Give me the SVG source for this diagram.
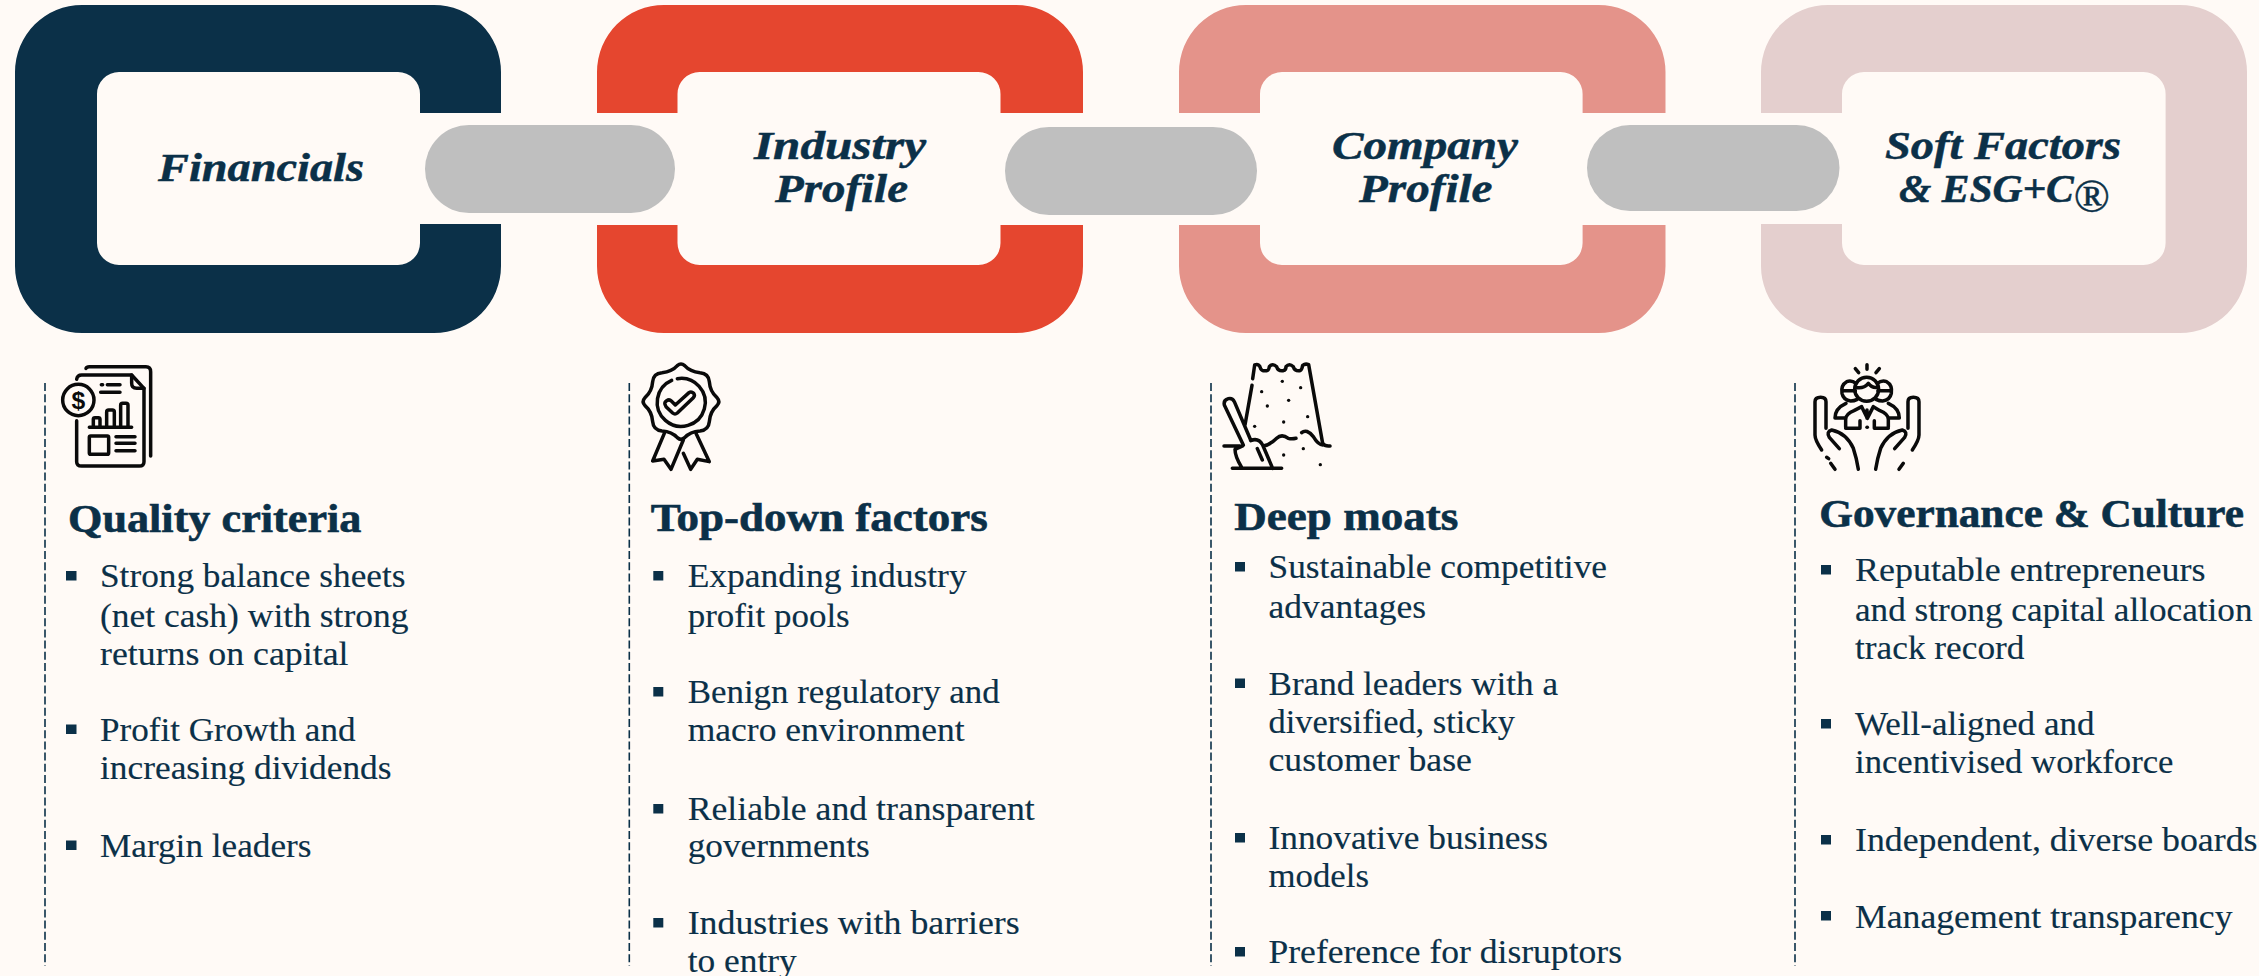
<svg xmlns="http://www.w3.org/2000/svg" width="2259" height="976" viewBox="0 0 2259 976">
<style>
text{font-family:"Liberation Serif","Times New Roman",serif;fill:#0B3048}
.t{font-size:41px;font-weight:700;font-style:italic;stroke:#0B3048;stroke-width:.5px}
.h{font-size:40px;font-weight:700;stroke:#0B3048;stroke-width:.6px}
.b{font-size:33px;stroke:#0B3048;stroke-width:.15px}
.d{stroke:#0B3048;stroke-width:1.6;stroke-dasharray:8 3.2;fill:none}
.s{fill:#0B3048}
.i{fill:none;stroke:#0a0a0a;stroke-width:10.500;stroke-linecap:round;stroke-linejoin:round}
.p{fill:#BFBFBF}
</style>
<rect width="2259" height="976" fill="#FFFAF6"/>
<g id="link-financials">
<path fill="#0B3048" d="M501 113V72A67 67 0 0 0 434 5H82A67 67 0 0 0 15 72V266A67 67 0 0 0 82 333H434A67 67 0 0 0 501 266V224H420V243A22 22 0 0 1 398 265H119A22 22 0 0 1 97 243V94A22 22 0 0 1 119 72H398A22 22 0 0 1 420 94V113Z"/>
<text class="t" x="158" y="181" textLength="206" lengthAdjust="spacingAndGlyphs">Financials</text>
</g>
<g id="link-industry">
<path fill="#E5462F" d="M597 113V72A67 67 0 0 1 664 5H1016A67 67 0 0 1 1083 72V113H1000.500V94A22 22 0 0 0 978.500 72H699.500A22 22 0 0 0 677.500 94V113Z"/>
<path fill="#E5462F" d="M597 225V266A67 67 0 0 0 664 333H1016A67 67 0 0 0 1083 266V225H1000.500V243A22 22 0 0 1 978.500 265H699.500A22 22 0 0 1 677.500 243V225Z"/>
<text class="t" x="754" y="159" textLength="172" lengthAdjust="spacingAndGlyphs">Industry</text>
<text class="t" x="775" y="202" textLength="133" lengthAdjust="spacingAndGlyphs">Profile</text>
</g>
<g id="link-company">
<path fill="#E4938A" d="M1179 113V72A67 67 0 0 1 1246 5H1598.500A67 67 0 0 1 1665.500 72V113H1582.600V94A22 22 0 0 0 1560.600 72H1282A22 22 0 0 0 1260 94V113Z"/>
<path fill="#E4938A" d="M1179 225V266A67 67 0 0 0 1246 333H1598.500A67 67 0 0 0 1665.500 266V225H1582.600V243A22 22 0 0 1 1560.600 265H1282A22 22 0 0 1 1260 243V225Z"/>
<text class="t" x="1332" y="159" textLength="186" lengthAdjust="spacingAndGlyphs">Company</text>
<text class="t" x="1359" y="202" textLength="133.500" lengthAdjust="spacingAndGlyphs">Profile</text>
</g>
<g id="link-soft-factors">
<path fill="#E4CFCE" d="M1761 113V72A67 67 0 0 1 1828 5H2180A67 67 0 0 1 2247 72V266A67 67 0 0 1 2180 333H1828A67 67 0 0 1 1761 266V224H1842V243A22 22 0 0 0 1864 265H2143.600A22 22 0 0 0 2165.600 243V94A22 22 0 0 0 2143.600 72H1864A22 22 0 0 0 1842 94V113Z"/>
<text class="t" x="1885" y="159" textLength="236" lengthAdjust="spacingAndGlyphs">Soft Factors</text>
<text class="t" x="1899" y="202" textLength="211" lengthAdjust="spacingAndGlyphs">&amp; ESG+C<tspan dy="10" style="font-size:47px;font-style:normal;font-weight:400">®</tspan></text>
</g>
<g id="connectors">
<rect class="p" x="425" y="125" width="250" height="88" rx="44"/>
<rect class="p" x="1005" y="127" width="252" height="88" rx="44"/>
<rect class="p" x="1587" y="125" width="252.500" height="86" rx="43"/>
</g>
<g id="col-quality">
<path class="d" d="M45 383V966"/>
<g transform="translate(30 350) scale(.3333)">
<path class="i" d="M168 55Q170 50 178 50H348Q362 50 362 65V318"/>
<path class="i" d="M140 88Q142 75 155 75H305L342 115V335Q342 348 328 348H155Q140 348 140 335V212"/>
<path class="i" d="M305 75V100Q305 115 320 115H342"/>
<circle class="i" cx="145" cy="150" r="47"/>
<text x="145" y="176" font-size="74" font-weight="700" text-anchor="middle" style="font-family:'Liberation Sans',Arial,sans-serif;fill:#0a0a0a">$</text>
<path class="i" d="M214 104H218M232 104H270M212 127H270M178 232H305M190 232V208Q190 203 195 203H205Q210 203 210 208V232M230 232V186Q230 180 236 180H247Q253 180 253 186V232M272 232V166Q272 160 278 160H288Q294 160 294 166V232M258 260H315M258 280H315M258 302H315"/>
<rect class="i" x="178" y="258" width="58" height="55" rx="4"/>
</g>
<text class="h" x="68" y="531.700" textLength="293.400" lengthAdjust="spacingAndGlyphs">Quality criteria</text>
<rect class="s" x="66" y="571" width="10.500" height="9.500"/>
<rect class="s" x="66" y="724.500" width="10.500" height="9.500"/>
<rect class="s" x="66" y="840.500" width="10.500" height="9.500"/>
<text class="b" x="100" y="586.700" textLength="305.500" lengthAdjust="spacingAndGlyphs">Strong balance sheets</text>
<text class="b" x="100" y="626.700" textLength="308.500" lengthAdjust="spacingAndGlyphs">(net cash) with strong</text>
<text class="b" x="100" y="665" textLength="248.500" lengthAdjust="spacingAndGlyphs">returns on capital</text>
<text class="b" x="100" y="740.700" textLength="255.500" lengthAdjust="spacingAndGlyphs">Profit Growth and</text>
<text class="b" x="100" y="778.700" textLength="291.500" lengthAdjust="spacingAndGlyphs">increasing dividends</text>
<text class="b" x="100" y="856.700" textLength="211.500" lengthAdjust="spacingAndGlyphs">Margin leaders</text>
</g>
<g id="col-topdown">
<path class="d" d="M629.300 383V966"/>
<g transform="translate(620 350) scale(.3333)">
<path class="i" d="M172 47Q183 37 194 47Q210 65 240 68Q266 70 268 95Q270 125 291 143Q302 155 291 167Q270 185 268 215Q266 240 240 243Q210 245 194 263Q183 273 172 263Q156 245 126 243Q100 240 98 215Q96 185 75 167Q64 155 75 143Q96 125 98 95Q100 70 126 68Q156 65 172 47Z"/>
<path class="i" d="M172 86A72 72 0 1 1 155 91"/>
<path class="i" d="M135 163Q133 157 140 152Q148 147 154 153L166 165L207 128Q214 123 221 130Q226 137 220 143L172 189Q165 195 158 189L138 170Z"/>
<path class="i" d="M133 250L98 333L132 328L153 358L190 270M228 250L268 335L232 328L212 358L190 310"/>
</g>
<text class="h" x="650.700" y="530.700" textLength="337" lengthAdjust="spacingAndGlyphs">Top-down factors</text>
<rect class="s" x="653.300" y="571" width="10" height="9.500"/>
<rect class="s" x="653.300" y="687" width="10" height="9.500"/>
<rect class="s" x="653.300" y="804" width="10" height="9.500"/>
<rect class="s" x="653.300" y="918" width="10" height="9.500"/>
<text class="b" x="687.700" y="586.700" textLength="279" lengthAdjust="spacingAndGlyphs">Expanding industry</text>
<text class="b" x="687.700" y="626.700" textLength="162" lengthAdjust="spacingAndGlyphs">profit pools</text>
<text class="b" x="687.700" y="703" textLength="312" lengthAdjust="spacingAndGlyphs">Benign regulatory and</text>
<text class="b" x="687.700" y="740.700" textLength="277" lengthAdjust="spacingAndGlyphs">macro environment</text>
<text class="b" x="687.700" y="820" textLength="347" lengthAdjust="spacingAndGlyphs">Reliable and transparent</text>
<text class="b" x="687.700" y="857.300" textLength="182" lengthAdjust="spacingAndGlyphs">governments</text>
<text class="b" x="687.700" y="934" textLength="332" lengthAdjust="spacingAndGlyphs">Industries with barriers</text>
<text class="b" x="687.700" y="971.700" textLength="109" lengthAdjust="spacingAndGlyphs">to entry</text>
</g>
<g id="col-moats">
<path class="d" d="M1211 383V966"/>
<g transform="translate(1200 350) scale(.3333)">
<path class="i" d="M158 86L164 45Q178 40 182 56Q186 64 200 62Q206 62 208 50Q218 38 230 50Q234 64 250 62Q258 60 258 50Q268 38 280 50Q284 64 300 62Q306 60 308 46Q316 40 326 44L368 280Q375 290 390 288"/>
<path class="i" d="M156 106L135 225M72 288H120M130 285L73 165Q70 150 85 146Q97 143 103 155L152 270M128 288L105 298Q105 320 125 352M152 272Q175 262 188 285L218 355M97 355H245M172 296L187 330M190 288Q210 285 230 265Q245 250 265 265Q275 268 288 265M305 248Q320 235 340 260Q355 285 368 285"/>
<g fill="#0a0a0a"><circle cx="247" cy="94" r="5"/><circle cx="185" cy="125" r="5"/><circle cx="302" cy="113" r="5"/><circle cx="266" cy="151" r="5"/><circle cx="202" cy="168" r="5"/><circle cx="323" cy="200" r="5"/><circle cx="164" cy="229" r="5"/><circle cx="251" cy="216" r="5"/><circle cx="251" cy="315" r="5"/><circle cx="310" cy="296" r="5"/><circle cx="361" cy="344" r="5"/></g>
</g>
<text class="h" x="1234.300" y="529.500" textLength="224" lengthAdjust="spacingAndGlyphs">Deep moats</text>
<rect class="s" x="1235" y="562" width="10" height="9.500"/>
<rect class="s" x="1235" y="678.500" width="10" height="9.500"/>
<rect class="s" x="1235" y="833" width="10" height="9.500"/>
<rect class="s" x="1235" y="947" width="10" height="9.500"/>
<text class="b" x="1268.500" y="577.700" textLength="338.500" lengthAdjust="spacingAndGlyphs">Sustainable competitive</text>
<text class="b" x="1268.500" y="617.700" textLength="157.500" lengthAdjust="spacingAndGlyphs">advantages</text>
<text class="b" x="1268.500" y="695" textLength="289.500" lengthAdjust="spacingAndGlyphs">Brand leaders with a</text>
<text class="b" x="1268.500" y="733" textLength="246.500" lengthAdjust="spacingAndGlyphs">diversified, sticky</text>
<text class="b" x="1268.500" y="770.700" textLength="203.500" lengthAdjust="spacingAndGlyphs">customer base</text>
<text class="b" x="1268.500" y="848.700" textLength="279.500" lengthAdjust="spacingAndGlyphs">Innovative business</text>
<text class="b" x="1268.500" y="886.700" textLength="100.500" lengthAdjust="spacingAndGlyphs">models</text>
<text class="b" x="1268.500" y="962.700" textLength="353.500" lengthAdjust="spacingAndGlyphs">Preference for disruptors</text>
</g>
<g id="col-governance">
<path class="d" d="M1795 383V966"/>
<g transform="translate(1780 350) scale(.3333)">
<path class="i" d="M261 44V58M226 56L236 68M298 56L288 68"/>
<circle class="i" cx="260" cy="118" r="36"/>
<path class="i" d="M226 112Q250 118 265 100Q275 115 294 112"/>
<path class="i" d="M228 100Q215 90 200 95Q182 105 186 130Q190 150 212 153Q222 153 232 148M186 122H226M292 100Q305 90 320 95Q338 105 334 130Q330 150 308 153Q298 153 288 148M294 122H334"/>
<path class="i" d="M197 232V208Q197 192 222 182L245 170L262 205L280 170L300 182Q325 192 325 208V232M197 235H240V212M283 212V235H325M165 204H195M327 204H358Q358 175 325 160M165 204Q165 175 198 160M261 205V180"/>
<path class="i" d="M261 232H262"/>
<path class="i" d="M125 300Q105 270 105 255V155Q105 142 122 142Q138 142 138 155V235M178 296L148 262Q138 245 155 240Q200 250 220 295Q230 325 235 358M140 322L146 326M152 340L165 358"/>
<path class="i" d="M397 300Q417 270 417 255V155Q417 142 400 142Q384 142 384 155V235M344 296L374 262Q384 245 367 240Q322 250 302 295Q292 325 287 358M370 340L357 358"/>
</g>
<text class="h" x="1819.300" y="527" textLength="424.700" lengthAdjust="spacingAndGlyphs">Governance &amp; Culture</text>
<rect class="s" x="1821" y="565" width="10" height="9.500"/>
<rect class="s" x="1821" y="719" width="10" height="9.500"/>
<rect class="s" x="1821" y="835" width="10" height="9.500"/>
<rect class="s" x="1821" y="911" width="10" height="9.500"/>
<text class="b" x="1855" y="580.700" textLength="350.500" lengthAdjust="spacingAndGlyphs">Reputable entrepreneurs</text>
<text class="b" x="1855" y="620.700" textLength="397.500" lengthAdjust="spacingAndGlyphs">and strong capital allocation</text>
<text class="b" x="1855" y="659" textLength="169.500" lengthAdjust="spacingAndGlyphs">track record</text>
<text class="b" x="1855" y="735" textLength="239.500" lengthAdjust="spacingAndGlyphs">Well-aligned and</text>
<text class="b" x="1855" y="773.300" textLength="318.500" lengthAdjust="spacingAndGlyphs">incentivised workforce</text>
<text class="b" x="1855" y="850.700" textLength="402.500" lengthAdjust="spacingAndGlyphs">Independent, diverse boards</text>
<text class="b" x="1855" y="928" textLength="377.500" lengthAdjust="spacingAndGlyphs">Management transparency</text>
</g>
</svg>
